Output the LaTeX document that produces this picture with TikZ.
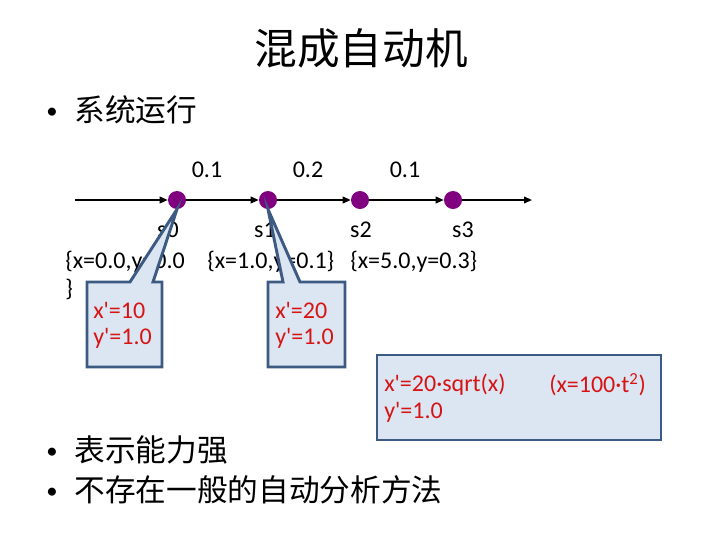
\documentclass[tikz,border=0pt]{standalone}
\usepackage{fontspec}
\setmainfont{Carlito}
\newfontfamily\cjk{Noto Sans CJK SC}
\usetikzlibrary{arrows.meta}
\definecolor{dotpurple}{RGB}{128,0,128}
\definecolor{callfill}{RGB}{220,230,242}
\definecolor{calldraw}{RGB}{60,90,130}
\definecolor{redtxt}{RGB}{215,20,20}
\newlength\unitpx
\setlength\unitpx{0.75pt}
\newcommand\bulsym{{\fontsize{17}{20}\selectfont\raisebox{0.15em}{•}}\hspace{0.55em}}
\tikzset{
  dot/.style={circle,fill=dotpurple,inner sep=0pt,minimum size=18\unitpx},
  edge/.style={line width=1.2pt,-{Triangle[length=6pt,width=5pt]}},
  lbl/.style={inner sep=0pt,font=\fontsize{18}{22}\selectfont},
  red/.style={lbl,text=redtxt,anchor=west},
  callout/.style={fill=callfill,draw=calldraw,line width=2.2pt,line join=miter},
  bul/.style={inner sep=0pt,anchor=west,font=\fontsize{23}{28}\selectfont}
}
\begin{document}
\begin{tikzpicture}[x=0.75pt,y=-0.75pt]
\useasboundingbox (0,0) rectangle (720,540);
% title
\node[inner sep=0pt,font=\fontsize{32}{36}\selectfont\cjk] (title) at (361,48) {混成自动机};
% bullets
\node[bul] (b1) at (46,110) {\bulsym{\cjk 系统运行}};
\node[bul] (b2) at (46,450) {\bulsym{\cjk 表示能力强}};
\node[bul] (b3) at (46,490) {\bulsym{\cjk 不存在一般的自动分析方法}};
% timeline
\coordinate (start) at (75,200);
\coordinate (fin) at (532,200);
\node[dot] (d0) at (177,200) {};
\node[dot] (d1) at (268,200) {};
\node[dot] (d2) at (360,200) {};
\node[dot] (d3) at (453,200) {};
\draw[edge] (start) -- (d0);
\draw[edge] (d0) -- (d1);
\draw[edge] (d1) -- (d2);
\draw[edge] (d2) -- (d3);
\draw[edge] (d3) -- (fin);
% labels
\node[lbl] (t1) at (207,170) {0.1};
\node[lbl] (t2) at (308,170) {0.2};
\node[lbl] (t3) at (405,170) {0.1};
\node[lbl] (l0) at (168,230) {s0};
\node[lbl] (l1) at (265,230) {s1};
\node[lbl] (l2) at (361,230) {s2};
\node[lbl] (l3) at (463,230) {s3};
\node[lbl,anchor=west] (v0) at (65,262) {\{x=0.0,y=0.0};
\node[lbl,anchor=west] (v0b) at (65,289) {\}};
\node[lbl,anchor=west] (v1) at (207,262) {\{x=1.0,y=0.1\}};
\node[lbl,anchor=west] (v2) at (350,262) {\{x=5.0,y=0.3\}};
% callouts
\draw[callout] (87,282) -- (130,282) -- (d0.south) -- (153,282) -- (162,282) -- (162,367) -- (87,367) -- cycle;
\draw[callout] (268,282) -- (283,282) -- (d1.south) -- (300,282) -- (345,282) -- (345,367) -- (268,367) -- cycle;
\draw[callout] (377,355) rectangle (661,440);
\node[red] (c1a) at (93,310) {x\textquotesingle=10};
\node[red] (c1b) at (93,338) {y\textquotesingle=1.0};
\node[red] (c2a) at (275,310) {x\textquotesingle=20};
\node[red] (c2b) at (275,338) {y\textquotesingle=1.0};
\node[red] (c3a) at (384,385) {x\textquotesingle=20·sqrt(x)};
\node[red] (c3c) at (549,385) {(x=100·t\textsuperscript{2})};
\node[red] (c3b) at (384,412) {y\textquotesingle=1.0};
\end{tikzpicture}
\end{document}
